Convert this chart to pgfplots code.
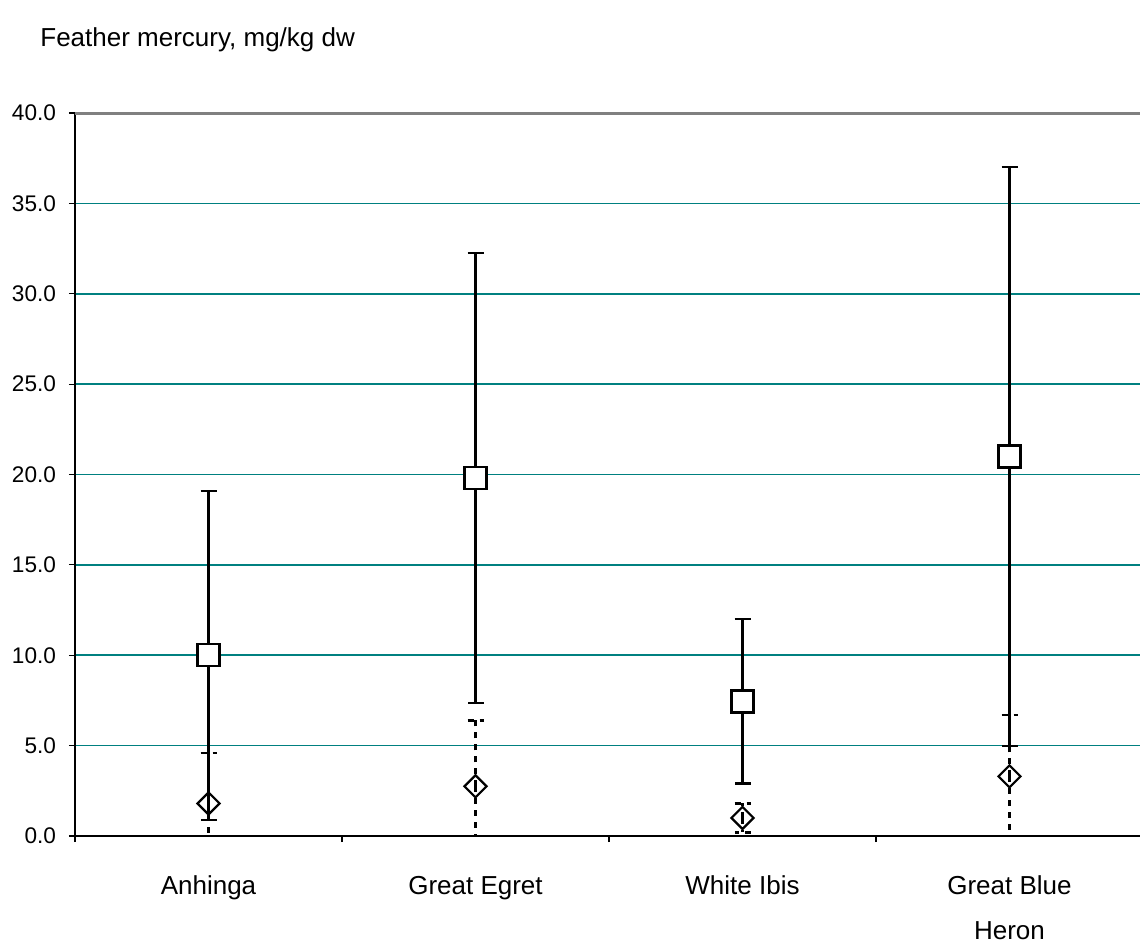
\documentclass[border=0pt]{standalone}
\usepackage{pgfplots}
\pgfplotsset{compat=1.18}
\usepackage{fontspec}
\setmainfont{Liberation Sans}
\definecolor{gridteal}{RGB}{0,128,128}
\begin{document}
\begin{tikzpicture}
\useasboundingbox (0,0) rectangle (570pt,475pt);
\node[anchor=base west, font=\fontsize{13}{15}\selectfont, inner sep=0pt] at (20pt,451.5pt) {Feather mercury, mg/kg dw};
\begin{axis}[
  at={(37.5pt,57pt)}, anchor=south west,
  scale only axis, width=534pt, height=361.5pt,
  xmin=-0.5, xmax=3.5, ymin=0, ymax=40,
  axis x line*=bottom, axis y line*=left,
  axis line style={-, black, line width=0.8pt},
  tick align=outside, major tick length=3pt, minor tick length=3pt,
  xtick={0,1,2,3},
  xticklabels={Anhinga, Great Egret, White Ibis, {Great Blue\\Heron}},
  minor xtick={-0.5,0.5,1.5,2.5,3.5},
  major x tick style={draw=none},
  minor x tick style={black, line width=0.6pt},
  xticklabel style={align=center, font=\fontsize{13}{22.5}\selectfont, yshift=-13.5pt},
  ytick={0,5,...,40},
  ytick style={black, line width=0.6pt},
  yticklabel style={font=\fontsize{11.3}{13}\selectfont, xshift=-3pt},
  /pgf/number format/assume math mode=true,
  yticklabel={\pgfmathprintnumber[fixed, fixed zerofill, precision=1]{\tick}},
  ymajorgrids, grid style={gridteal, line width=0.8pt},
  clip=true,
  after end axis/.code={\draw[gray, line width=1.5pt] (rel axis cs:0,1) -- (rel axis cs:1,1);},
]
% mean +/- SD (squares)
\addplot[only marks, mark=square*, mark size=5.5pt,
  mark options={line width=1.2pt, draw=black, fill=white},
  error bars/.cd, y dir=both, y explicit,
  error bar style={line width=1.1pt, black},
  error mark options={rotate=90, mark size=4pt, line width=1.1pt, black}]
coordinates {
  (0,10.0) +- (0,9.1)
  (1,19.8) +- (0,12.45)
  (2,7.45) +- (0,4.55)
  (3,21.0) +- (0,16.0)
};
% second series (diamonds, dashed bars)
\addplot[only marks, mark=square, mark size=3.9pt,
  mark options={rotate=45, line width=1.1pt, draw=black, solid},
  error bars/.cd, y dir=both, y explicit,
  error bar style={line width=1.4pt, black, dash pattern=on 3pt off 3pt},
  error mark options={rotate=90, mark size=4pt, line width=1.2pt, black, dash pattern=on 3pt off 3pt}]
coordinates {
  (0,1.8) +- (0,2.8)
  (1,2.75) +- (0,3.65)
  (2,1.0) +- (0,0.8)
  (3,3.3) +- (0,3.4)
};
\end{axis}
\end{tikzpicture}
\end{document}
